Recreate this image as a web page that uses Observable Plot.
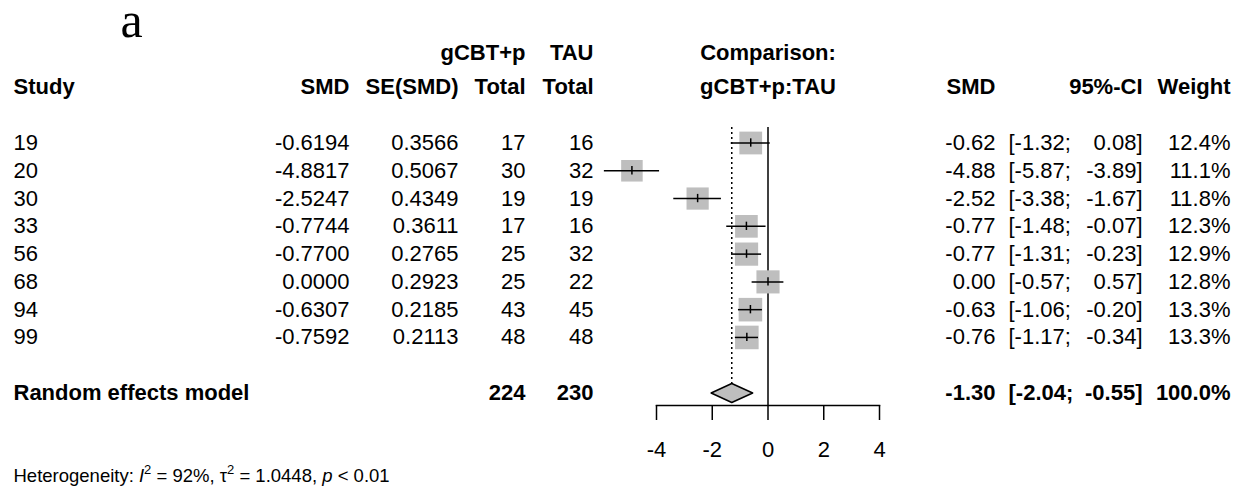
<!DOCTYPE html>
<html>
<head>
<meta charset="utf-8">
<script src="https://cdn.jsdelivr.net/npm/d3@7"></script>
<script src="https://cdn.jsdelivr.net/npm/@observablehq/plot@0.6"></script>
<style>
  html, body { margin: 0; padding: 0; background: #fff; }
  #chart svg { display: block; }
</style>
</head>
<body>
<div id="chart"></div>
<script>
// ---- data ----
const studies   = ["19", "20", "30", "33", "56", "68", "94", "99"];
const smd       = [-0.6194, -4.8817, -2.5247, -0.7744, -0.7700, 0.0000, -0.6307, -0.7592];
const seSmd     = [0.3566, 0.5067, 0.4349, 0.3611, 0.2765, 0.2923, 0.2185, 0.2113];
const nTreat    = [17, 30, 19, 17, 25, 25, 43, 48];
const nCtrl     = [16, 32, 19, 16, 32, 22, 45, 48];
const ciLower   = [-1.32, -5.87, -3.38, -1.48, -1.31, -0.57, -1.06, -1.17];
const ciUpper   = [0.08, -3.89, -1.67, -0.07, -0.23, 0.57, -0.20, -0.34];
const weights   = [12.4, 11.1, 11.8, 12.3, 12.9, 12.8, 13.3, 13.3];
const pooledSMD = -1.30;
const pooledLower = -2.04;
const pooledUpper = -0.55;
const totalTreat = 224;
const totalCtrl = 230;
const xTicks = [-4, -2, 0, 2, 4];
const heterogeneity = {I2: "92%", tau2: "1.0448", p: "< 0.01"};

// ---- layout ----
const W = 1241, H = 492;
const mL = 656, mR = 362;
const FS = 22;
const font = "Liberation Sans, Arial, sans-serif";

const rows = studies.map((s, i) => ({
  study: s, smd: smd[i], se: seSmd[i], nT: nTreat[i], nC: nCtrl[i],
  lo: ciLower[i], hi: ciUpper[i], w: weights[i], row: i
}));
const reRow = rows.length + 1;
const hdr1 = -3.25, hdr2 = -2, hetRow = 12.0, titleRow = -3.80;

const px = (p) => p - mL; // dx helper relative to frame left

function col(data, opts) {
  return Plot.text(data, {
    frameAnchor: "left", fontSize: FS, fill: "black", ...opts
  });
}

const pooledRow = [{row: reRow}];
const diamond = [
  {x: pooledLower, y: reRow},
  {x: pooledSMD, y: reRow - 0.34},
  {x: pooledUpper, y: reRow},
  {x: pooledSMD, y: reRow + 0.34},
  {x: pooledLower, y: reRow}
];

const chart = Plot.plot({
  width: W, height: H,
  marginLeft: mL, marginRight: mR, marginTop: 127, marginBottom: 87,
  style: {fontFamily: font, fontSize: FS + "px", background: "#fff", color: "black", overflow: "visible"},
  x: {domain: [-4, 4], axis: null},
  y: {domain: [0, 9], range: [142.5, 392.5], axis: null},
  r: {type: "sqrt", domain: [0, 13.3], range: [0, 13.3]},
  marks: [
    // reference lines
    Plot.ruleX([0], {stroke: "black", strokeWidth: 1.5}),
    Plot.ruleX([pooledSMD], {stroke: "black", strokeWidth: 1.5, strokeDasharray: "2,3", insetBottom: 22}),
    // axis
    Plot.frame({anchor: "bottom", stroke: "black", strokeWidth: 1.5}),
    Plot.axisX({ticks: xTicks, tickSize: 15, tickPadding: 21, tickFormat: d => String(d),
      label: null, fontSize: FS, stroke: "black", strokeWidth: 1.5, fill: "black"}),
    // squares
    Plot.dot(rows, {x: "smd", y: "row", r: "w", symbol: "square", fill: "#bebebe", stroke: "none"}),
    // CIs
    Plot.ruleY(rows, {y: "row", x1: "lo", x2: "hi", stroke: "black", strokeWidth: 1.5}),
    Plot.ruleX(rows, {x: "smd", y1: d => d.row - 0.15, y2: d => d.row + 0.15, stroke: "black", strokeWidth: 1.5}),
    // diamond
    Plot.line(diamond, {x: "x", y: "y", fill: "#bebebe", stroke: "black", strokeWidth: 1.5}),

    // title
    Plot.text(["a"], {frameAnchor: "left", dx: px(120), y: () => titleRow, text: d => d,
      fontFamily: "Liberation Serif, Times New Roman, serif", fontSize: 50, textAnchor: "start",
      lineAnchor: "bottom", fill: "black"}),

    // headers
    col(["Study"], {y: () => hdr2, text: d => d, dx: px(13), textAnchor: "start", fontWeight: "bold"}),
    col(["SMD"], {y: () => hdr2, text: d => d, dx: px(349), textAnchor: "end", fontWeight: "bold"}),
    col(["SE(SMD)"], {y: () => hdr2, text: d => d, dx: px(458), textAnchor: "end", fontWeight: "bold"}),
    col(["gCBT+p"], {y: () => hdr1, text: d => d, dx: px(525), textAnchor: "end", fontWeight: "bold"}),
    col(["Total"], {y: () => hdr2, text: d => d, dx: px(525), textAnchor: "end", fontWeight: "bold"}),
    col(["TAU"], {y: () => hdr1, text: d => d, dx: px(593), textAnchor: "end", fontWeight: "bold"}),
    col(["Total"], {y: () => hdr2, text: d => d, dx: px(593), textAnchor: "end", fontWeight: "bold"}),
    Plot.text(["Comparison:"], {x: () => 0, y: () => hdr1, text: d => d, fontSize: FS, fontWeight: "bold", fill: "black"}),
    Plot.text(["gCBT+p:TAU"], {x: () => 0, y: () => hdr2, text: d => d, fontSize: FS, fontWeight: "bold", fill: "black"}),
    col(["SMD"], {y: () => hdr2, text: d => d, dx: px(995), textAnchor: "end", fontWeight: "bold"}),
    col(["95%-CI"], {y: () => hdr2, text: d => d, dx: px(1142), textAnchor: "end", fontWeight: "bold"}),
    col(["Weight"], {y: () => hdr2, text: d => d, dx: px(1230), textAnchor: "end", fontWeight: "bold"}),

    // study rows
    col(rows, {y: "row", text: "study", dx: px(13), textAnchor: "start"}),
    col(rows, {y: "row", text: d => d.smd.toFixed(4), dx: px(349), textAnchor: "end"}),
    col(rows, {y: "row", text: d => d.se.toFixed(4), dx: px(458), textAnchor: "end"}),
    col(rows, {y: "row", text: d => String(d.nT), dx: px(525), textAnchor: "end"}),
    col(rows, {y: "row", text: d => String(d.nC), dx: px(593), textAnchor: "end"}),
    col(rows, {y: "row", text: d => d.smd.toFixed(2), dx: px(995), textAnchor: "end"}),
    col(rows, {y: "row", text: d => "[" + d.lo.toFixed(2) + ";", dx: px(1008), textAnchor: "start"}),
    col(rows, {y: "row", text: d => d.hi.toFixed(2) + "]", dx: px(1142), textAnchor: "end"}),
    col(rows, {y: "row", text: d => d.w.toFixed(1) + "%", dx: px(1230), textAnchor: "end"}),

    // pooled row
    col(pooledRow, {y: "row", text: () => "Random effects model", dx: px(13), textAnchor: "start", fontWeight: "bold"}),
    col(pooledRow, {y: "row", text: () => String(totalTreat), dx: px(525), textAnchor: "end", fontWeight: "bold"}),
    col(pooledRow, {y: "row", text: () => String(totalCtrl), dx: px(593), textAnchor: "end", fontWeight: "bold"}),
    col(pooledRow, {y: "row", text: () => pooledSMD.toFixed(2), dx: px(995), textAnchor: "end", fontWeight: "bold"}),
    col(pooledRow, {y: "row", text: () => "[" + pooledLower.toFixed(2) + ";", dx: px(1008), textAnchor: "start", fontWeight: "bold"}),
    col(pooledRow, {y: "row", text: () => pooledUpper.toFixed(2) + "]", dx: px(1142), textAnchor: "end", fontWeight: "bold"}),
    col(pooledRow, {y: "row", text: () => d3.sum(weights).toFixed(0) === "100" ? "100.0%" : "100.0%", dx: px(1230), textAnchor: "end", fontWeight: "bold"}),

    // heterogeneity
    col(["HET"], {y: () => hetRow, text: d => d, dx: px(13), textAnchor: "start", fontSize: 18.5})
  ]
});

document.getElementById("chart").appendChild(chart);

// rich text for heterogeneity line
d3.select(chart).selectAll("text").each(function () {
  if (this.textContent === "HET") {
    const t = d3.select(this);
    t.text("");
    t.append("tspan").text("Heterogeneity: ");
    t.append("tspan").attr("font-style", "italic").text("I");
    t.append("tspan").attr("font-size", "13px").attr("dy", "-8").text("2");
    t.append("tspan").attr("dy", "8").text(" = " + heterogeneity.I2 + ", \u03c4");
    t.append("tspan").attr("font-size", "13px").attr("dy", "-8").text("2");
    t.append("tspan").attr("dy", "8").text(" = " + heterogeneity.tau2 + ", ");
    t.append("tspan").attr("font-style", "italic").text("p");
    t.append("tspan").text(" " + heterogeneity.p);
  }
});
</script>
</body>
</html>
